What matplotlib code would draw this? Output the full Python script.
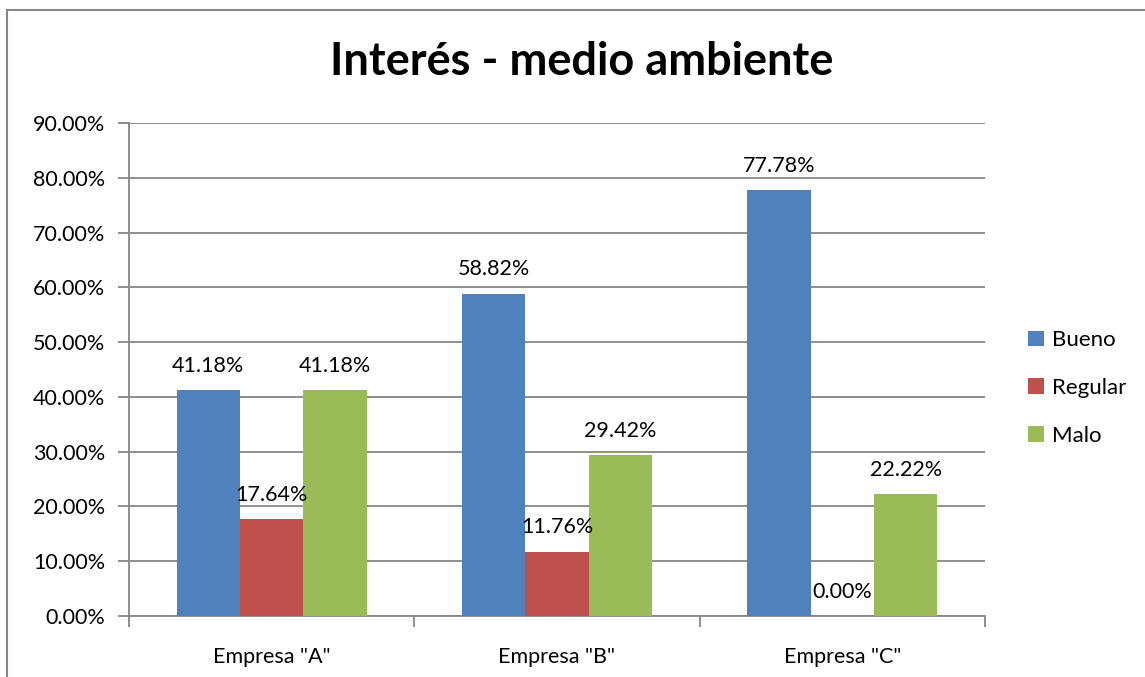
import matplotlib
matplotlib.use('Agg')
import matplotlib.pyplot as plt
import matplotlib.ticker as ticker
from matplotlib.patches import Rectangle
import numpy as np

# datos
categorias = ['Empresa "A"', 'Empresa "B"', 'Empresa "C"']
series = ['Bueno', 'Regular', 'Malo']
bueno = [41.18, 58.82, 77.78]
regular = [17.64, 11.76, 0.00]
malo = [41.18, 29.42, 22.22]
colores = ['#4F81BD', '#C0504D', '#9BBB59']

plt.rcParams['font.family'] = ['Lato', 'DejaVu Sans']

W, H = 1145, 677
fig = plt.figure(figsize=(W / 100, H / 100), dpi=100)
# marco del grafico
fig.patches.append(Rectangle((7 / W, -0.1), 1.2, 1 - 10 / H + 0.1,
                             transform=fig.transFigure, fill=False,
                             edgecolor='#868686', linewidth=1.5))

ax = fig.add_axes([129 / W, 1 - 616 / H, (985 - 129) / W, (616 - 123) / H])

x = np.arange(len(categorias))
ancho = 1 / 4.5
for i, (vals, nombre, col) in enumerate(zip([bueno, regular, malo], series, colores)):
    pos = x + (i - 1) * ancho
    ax.bar(pos, vals, ancho, color=col, label=nombre, zorder=3)
    for p, v in zip(pos, vals):
        ax.annotate('%.2f%%' % v, (p, v), xytext=(0, 17.5), textcoords='offset points',
                    ha='center', va='center', fontsize=15.5, zorder=4)

ax.set_xlim(-0.5, len(categorias) - 0.5)
ax.set_ylim(0, 90)
ax.yaxis.set_major_locator(ticker.MultipleLocator(10))
ax.yaxis.set_major_formatter(ticker.FuncFormatter(lambda v, p: '%.2f%%' % v))
ax.set_xticks(x)
ax.set_xticklabels(categorias)
ax.set_xticks(np.arange(len(categorias) + 1) - 0.5, minor=True)
ax.tick_params(axis='x', which='major', length=0, pad=22, labelsize=15.5)
ax.tick_params(axis='x', which='minor', length=8, color='#868686', width=1.3)
ax.tick_params(axis='y', length=8, color='#868686', width=1.3, labelsize=15.5, pad=9)
ax.grid(axis='y', color='#868686', linewidth=1.3, zorder=0)
for lado in ['top', 'right']:
    ax.spines[lado].set_visible(False)
for lado in ['left', 'bottom']:
    ax.spines[lado].set_color('#868686')
    ax.spines[lado].set_linewidth(1.3)

fig.text(582 / W, 1 - 62 / H, 'Interés - medio ambiente', ha='center', va='center',
         fontsize=32.5, fontweight='bold')

fig.legend(loc='center left', bbox_to_anchor=(1008 / W, 1 - 388 / H), frameon=False,
           fontsize=16, handlelength=0.7, handleheight=0.7, handletextpad=0.4,
           labelspacing=1.25)

fig.savefig('out.png', dpi=100)
